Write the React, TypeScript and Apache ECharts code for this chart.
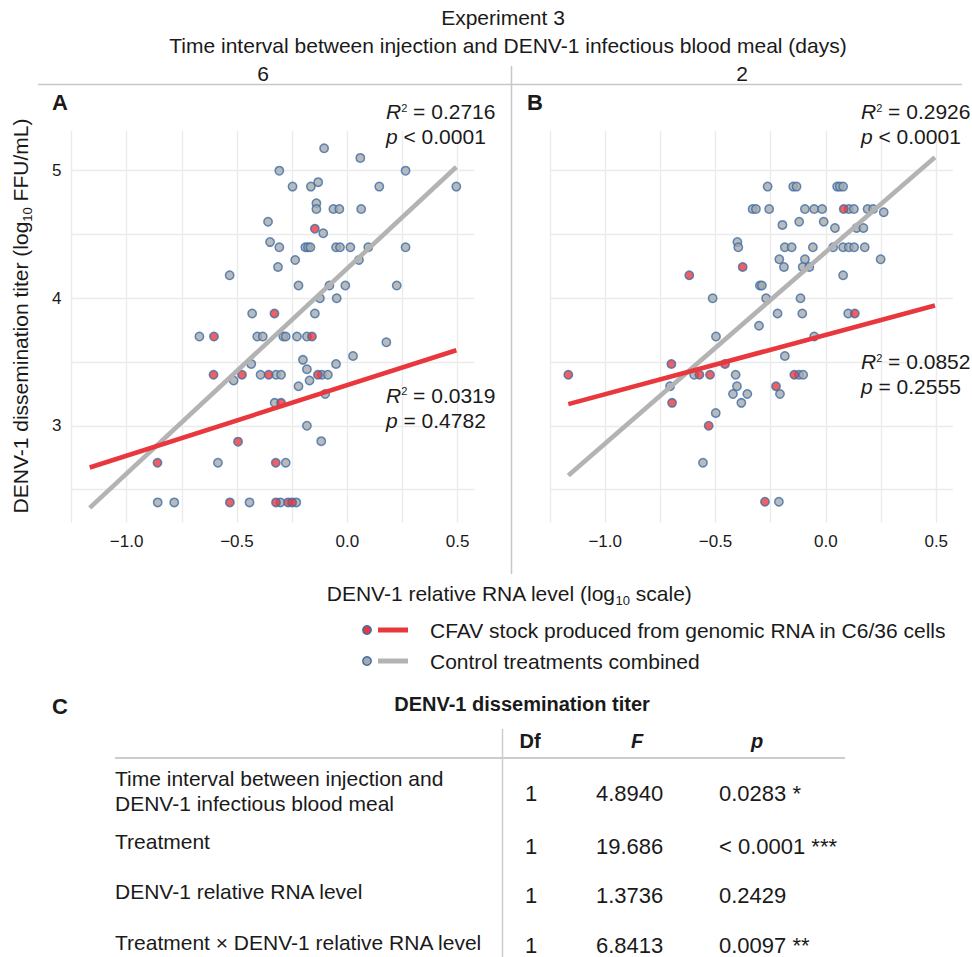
import React, { useEffect, useRef } from "react";
import * as echarts from "echarts";

const FONT = "'Liberation Sans', Arial, Helvetica, sans-serif";

// ---------- data ----------
const panelNames = ["6", "2"];
const panelLetters = ["A", "B"];

// Panel A (6 days) — [x = log10 relative RNA, y = log10 FFU/mL]
const panelA_control: number[][] = [
  [-0.105, 5.175], [0.059, 5.1], [-0.308, 5.0], [0.264, 5.0],
  [-0.248, 4.875], [-0.165, 4.875], [-0.132, 4.91], [0.145, 4.875], [0.494, 4.875],
  [-0.14, 4.745], [-0.14, 4.7], [-0.063, 4.7], [-0.036, 4.7], [0.063, 4.7],
  [-0.359, 4.6], [-0.109, 4.51], [-0.35, 4.44],
  [-0.308, 4.4], [-0.19, 4.4], [-0.178, 4.4], [-0.167, 4.4], [-0.051, 4.4], [-0.033, 4.4], [0.014, 4.4], [0.095, 4.4], [0.264, 4.4],
  [-0.236, 4.3], [0.053, 4.3], [-0.314, 4.245], [-0.533, 4.18],
  [-0.221, 4.1], [-0.081, 4.1], [-0.009, 4.1], [0.224, 4.1],
  [-0.124, 4.0], [-0.048, 4.0],
  [-0.431, 3.88], [-0.147, 3.88],
  [-0.67, 3.7], [-0.408, 3.7], [-0.383, 3.7], [-0.29, 3.7], [-0.279, 3.7], [-0.228, 3.7], [-0.183, 3.7],
  [0.177, 3.655], [0.026, 3.548], [-0.201, 3.517], [-0.051, 3.485], [-0.435, 3.485], [-0.183, 3.444],
  [-0.393, 3.4], [-0.323, 3.4], [-0.3, 3.4], [-0.115, 3.4], [-0.088, 3.4],
  [-0.515, 3.355], [-0.171, 3.355], [-0.221, 3.31], [-0.1, 3.25], [-0.329, 3.18],
  [-0.183, 3.0], [-0.118, 2.88],
  [-0.586, 2.71], [-0.279, 2.71],
  [-0.859, 2.4], [-0.784, 2.4], [-0.443, 2.4], [-0.303, 2.4], [-0.231, 2.4],
];
const panelA_cfav: number[][] = [
  [-0.147, 4.545], [-0.33, 3.88], [-0.604, 3.7], [-0.16, 3.7], [-0.606, 3.4], [-0.477, 3.4],
  [-0.356, 3.4], [-0.133, 3.4], [-0.3, 3.18], [-0.495, 2.876], [-0.86, 2.71], [-0.324, 2.71],
  [-0.532, 2.4], [-0.323, 2.4], [-0.268, 2.4], [-0.25, 2.4],
];

// Panel B (2 days)
const panelB_control: number[][] = [
  [-0.264, 4.875], [-0.148, 4.875], [-0.133, 4.875], [0.051, 4.875], [0.063, 4.875], [0.078, 4.875],
  [-0.332, 4.7], [-0.317, 4.7], [-0.257, 4.7], [-0.095, 4.7], [-0.053, 4.7], [-0.017, 4.7], [0.104, 4.7], [0.127, 4.7], [0.189, 4.7], [0.214, 4.7],
  [0.262, 4.674], [-0.121, 4.6], [-0.01, 4.6], [-0.197, 4.575],
  [0.041, 4.55], [0.139, 4.55], [0.17, 4.55], [-0.401, 4.44],
  [-0.397, 4.4], [-0.186, 4.4], [-0.155, 4.4], [-0.059, 4.4], [0.033, 4.4], [0.078, 4.4], [0.104, 4.4], [0.128, 4.4], [0.176, 4.4],
  [-0.211, 4.305], [-0.095, 4.305], [0.248, 4.305],
  [-0.19, 4.245], [-0.105, 4.245], [-0.075, 4.245], [0.078, 4.18],
  [-0.299, 4.1], [-0.29, 4.1],
  [-0.513, 4.0], [-0.271, 4.0], [-0.115, 4.0],
  [-0.219, 3.88], [-0.107, 3.88], [0.101, 3.88], [-0.303, 3.785],
  [-0.498, 3.7], [-0.053, 3.7], [-0.186, 3.548],
  [-0.597, 3.4], [-0.409, 3.4], [-0.122, 3.4], [-0.103, 3.4],
  [-0.706, 3.31], [-0.403, 3.31], [-0.421, 3.25], [-0.356, 3.25], [-0.208, 3.25],
  [-0.383, 3.18], [-0.499, 3.1], [-0.557, 2.71], [-0.213, 2.405],
];
const panelB_cfav: number[][] = [
  [0.081, 4.7], [-0.377, 4.245], [-0.619, 4.18], [0.131, 3.88], [-1.167, 3.4], [-0.7, 3.485],
  [-0.697, 3.18], [-0.573, 3.4], [-0.525, 3.4], [-0.457, 3.485], [-0.531, 3.0], [-0.143, 3.4],
  [-0.226, 3.31], [-0.276, 2.405],
];

// regression fits [intercept, slope]
const fitA_control = [4.234, 1.608];
const fitA_cfav = [3.319, 0.553];
const fitB_control = [4.363, 1.502];
const fitB_cfav = [3.713, 0.465];

// fit statistics
const statsA_control = ["0.2716", "< 0.0001"];
const statsA_cfav = ["0.0319", "= 0.4782"];
const statsB_control = ["0.2926", "< 0.0001"];
const statsB_cfav = ["0.0852", "= 0.2555"];

const legendLabels = ["CFAV stock produced from genomic RNA in C6/36 cells", "Control treatments combined"];

// ANOVA table
const tableTerms = [
  "Time interval between injection and\nDENV-1 infectious blood meal",
  "Treatment",
  "DENV-1 relative RNA level",
  "Treatment \u00d7 DENV-1 relative RNA level",
];
const tableDf = ["1", "1", "1", "1"];
const tableF = ["4.8940", "19.686", "1.3736", "6.8413"];
const tableP = ["0.0283 *", "< 0.0001 ***", "0.2429", "0.0097 **"];

// ---------- styles ----------
const GRAY = "#a9a9a9";
const RED = "#e8383d";
const BORDER = "#3c6ea8";
const LINE_GRAY = "#b3b3b3";
const GRID = "#ebebeb";
const TXT = "#1a1a1a";

const fmtX = (v: number) => {
  const r = Math.round(v * 2);
  if (Math.abs(v * 2 - r) > 1e-6 || v < -1.0001) return "";
  return (v < -1e-9 ? "\u2212" : "") + Math.abs(v).toFixed(1);
};
const fmtY = (v: number) => (Math.abs(v - Math.round(v)) < 1e-6 ? String(Math.round(v)) : "");

const allX = [...panelA_control, ...panelA_cfav, ...panelB_control, ...panelB_cfav].map((p) => p[0]);
const xLo = Math.min(...allX);
const xHi = Math.max(...allX);
const fitLine = (f: number[]) => [
  [xLo, f[0] + f[1] * xLo],
  [xHi, f[0] + f[1] * xHi],
];

const txt = (x: number, y: number, text: string, o: any = {}) => ({
  type: "text",
  x,
  y,
  rotation: o.rotation || 0,
  z: 10,
  style: {
    text,
    fill: o.fill || TXT,
    font: `${o.style || "normal"} ${o.weight || "normal"} ${o.size || 21}px ${FONT}`,
    textAlign: o.align || "left",
    textVerticalAlign: o.valign || "middle",
    lineHeight: o.lineHeight,
    rich: o.rich,
  },
});

const statRich = {
  i: { fontStyle: "italic", fontSize: 21, fontFamily: FONT, fill: TXT, color: TXT },
  s: { fontSize: 11, fontFamily: FONT, verticalAlign: "top", color: TXT, padding: [1, 0, 0, 0] },
  n: { fontSize: 21, fontFamily: FONT, color: TXT },
};
const statText = (x: number, y: number, st: string[]) => [
  txt(x, y, `{i|R}{s|2}{n| = ${st[0]}}`, { rich: statRich }),
  txt(x, y + 25, `{i|p}{n| ${st[1]}}`, { rich: statRich }),
];

const scatter = (idx: number, data: number[][], fill: string) => ({
  type: "scatter",
  xAxisIndex: idx,
  yAxisIndex: idx,
  data,
  symbolSize: 8.4,
  itemStyle: { color: fill, borderColor: BORDER, borderWidth: 1.5 },
  z: 3,
});
const fitSeries = (idx: number, f: number[], color: string) => ({
  type: "line",
  xAxisIndex: idx,
  yAxisIndex: idx,
  data: fitLine(f),
  showSymbol: false,
  symbol: "none",
  lineStyle: { color, width: 4.6 },
  z: 5,
});

export default function App() {
  const ref = useRef<HTMLDivElement>(null);
  useEffect(() => {
    if (!ref.current) return;
    const chart = echarts.init(ref.current, undefined, { renderer: "svg" });
    const grids = [
      { left: 71.4, top: 131.1, width: 402.8, height: 391.7 },
      { left: 550, top: 131.1, width: 402.8, height: 391.7 },
    ];
    const option: any = {
      animation: false,
      backgroundColor: "#ffffff",
      textStyle: { fontFamily: FONT },
      grid: grids,
      xAxis: [0, 1].map((i) => ({
        type: "value",
        gridIndex: i,
        min: -1.25,
        max: 0.575,
        interval: 0.25,
        axisLine: { show: false },
        axisTick: { show: false },
        axisLabel: { formatter: fmtX, fontSize: 17, color: TXT, margin: 10, fontFamily: FONT },
        splitLine: { show: true, showMaxLine: false, lineStyle: { color: GRID, width: 1.4 } },
      })),
      yAxis: [0, 1].map((i) => ({
        type: "value",
        gridIndex: i,
        min: 2.24,
        max: 5.31,
        splitNumber: 5,
        axisLine: { show: false },
        axisTick: { show: false },
        axisLabel: { show: i === 0, formatter: fmtY, fontSize: 17, color: TXT, margin: 10, fontFamily: FONT },
        splitLine: { show: true, showMinLine: false, showMaxLine: false, lineStyle: { color: GRID, width: 1.4 } },
      })),
      series: [
        scatter(0, panelA_control, GRAY),
        scatter(0, panelA_cfav, RED),
        scatter(1, panelB_control, GRAY),
        scatter(1, panelB_cfav, RED),
        fitSeries(0, fitA_control, LINE_GRAY),
        fitSeries(0, fitA_cfav, RED),
        fitSeries(1, fitB_control, LINE_GRAY),
        fitSeries(1, fitB_cfav, RED),
      ],
      graphic: [
        // titles and strips
        txt(503, 17, "Experiment 3", { align: "center" }),
        txt(508, 45, "Time interval between injection and DENV-1 infectious blood meal (days)", { align: "center" }),
        txt(263, 73, panelNames[0], { align: "center" }),
        txt(742, 73, panelNames[1], { align: "center" }),
        { type: "line", shape: { x1: 38, y1: 84.5, x2: 962, y2: 84.5 }, style: { stroke: "#c8c8c8", lineWidth: 1.5 } },
        { type: "line", shape: { x1: 511.5, y1: 66, x2: 511.5, y2: 574 }, style: { stroke: "#c8c8c8", lineWidth: 1.5 } },
        txt(52, 102, panelLetters[0], { weight: "bold", size: 22 }),
        txt(527, 102, panelLetters[1], { weight: "bold", size: 22 }),
        ...statText(386, 111.7, statsA_control),
        ...statText(386, 395, statsA_cfav),
        ...statText(861, 111.7, statsB_control),
        ...statText(861, 361.7, statsB_cfav),
        // axis titles
        txt(20, 316, "{n|DENV-1 dissemination titer (log}{sub|10}{n| FFU/mL)}", {
          align: "center",
          rotation: Math.PI / 2,
          rich: {
            n: { fontSize: 21, fontFamily: FONT, color: TXT, lineHeight: 28 },
            sub: { fontSize: 13, fontFamily: FONT, color: TXT, verticalAlign: "bottom", lineHeight: 13 },
          },
        }),
        txt(509, 593, "{n|DENV-1 relative RNA level (log}{sub|10}{n| scale)}", {
          align: "center",
          rich: {
            n: { fontSize: 21, fontFamily: FONT, color: TXT, lineHeight: 28 },
            sub: { fontSize: 13, fontFamily: FONT, color: TXT, verticalAlign: "bottom", lineHeight: 13 },
          },
        }),
        // legend
        ...[RED, GRAY].flatMap((c, k) => {
          const y = 630 + k * 31;
          return [
            { type: "circle", shape: { cx: 367, cy: y, r: 4.2 }, style: { fill: c, stroke: BORDER, lineWidth: 1.5 }, z: 10 },
            { type: "line", shape: { x1: 378, y1: y, x2: 408, y2: y }, style: { stroke: c === RED ? RED : LINE_GRAY, lineWidth: 5 }, z: 10 },
            txt(430, y, legendLabels[k]),
          ];
        }),
        // table
        txt(52, 706, "C", { weight: "bold", size: 22 }),
        txt(522, 704, "DENV-1 dissemination titer", { weight: "bold", size: 20, align: "center" }),
        txt(530, 741, "Df", { weight: "bold", size: 20, align: "center" }),
        txt(637, 741, "F", { weight: "bold", style: "italic", size: 20, align: "center" }),
        txt(757, 741, "p", { weight: "bold", style: "italic", size: 20, align: "center" }),
        { type: "line", shape: { x1: 115, y1: 758, x2: 845, y2: 758 }, style: { stroke: "#cccccc", lineWidth: 2 } },
        { type: "line", shape: { x1: 502.5, y1: 729, x2: 502.5, y2: 957 }, style: { stroke: "#cccccc", lineWidth: 1.5 } },
        ...tableTerms.flatMap((term, k) => {
          const ly = [790.5, 841, 891, 942][k];
          const vy = [793, 846, 895, 945][k];
          return [
            txt(115, ly, term, { lineHeight: 25 }),
            txt(531, vy, tableDf[k], { align: "center", size: 22 }),
            txt(596, vy, tableF[k], { size: 22 }),
            txt(719, vy, tableP[k], { size: 22 }),
          ];
        }),
      ],
    };
    chart.setOption(option);
    return () => chart.dispose();
  }, []);
  return <div ref={ref} style={{ position: "absolute", left: 0, top: 0, width: 972, height: 957 }} />;
}
